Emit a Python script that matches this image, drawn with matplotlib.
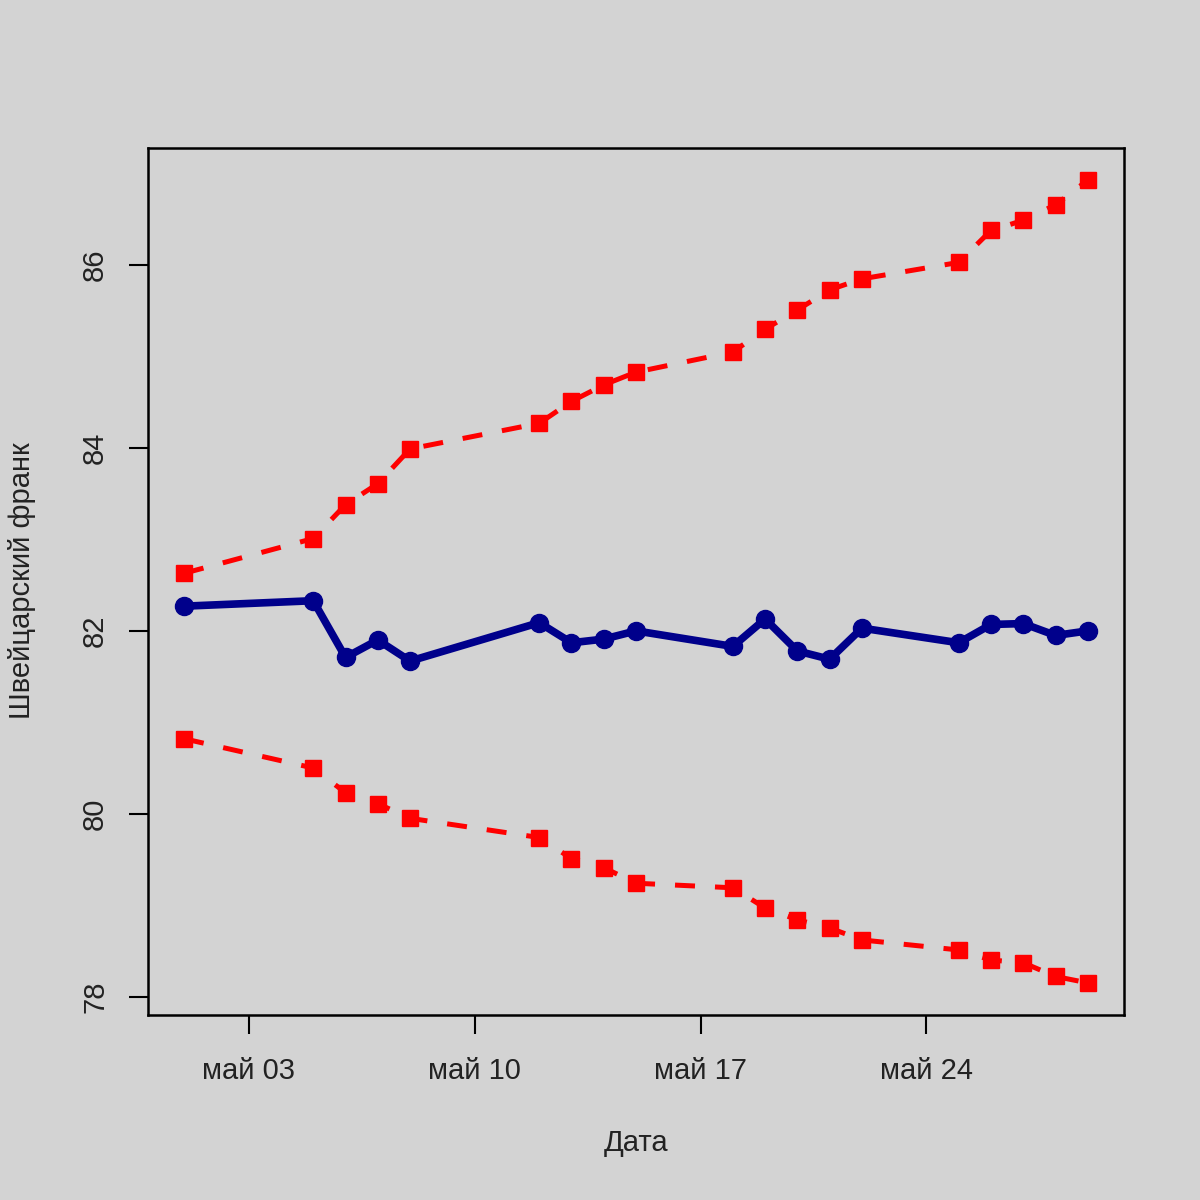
import datetime as dt
import matplotlib
matplotlib.use("Agg")
import matplotlib.pyplot as plt
import matplotlib.dates as mdates

plt.rcParams['font.family'] = ['Liberation Sans', 'DejaVu Sans']

# trading days, May 2020
days = [1, 5, 6, 7, 8, 12, 13, 14, 15, 18, 19, 20, 21, 22, 25, 26, 27, 28, 29]
dates = [dt.date(2020, 5, d) for d in days]

# CHF rate and forecast band
chf = [82.27, 82.33, 81.71, 81.90, 81.67, 82.09, 81.87, 81.91, 82.00, 81.83,
       82.13, 81.78, 81.69, 82.03, 81.87, 82.07, 82.08, 81.95, 82.00]
upper = [82.63, 83.01, 83.38, 83.61, 83.99, 84.27, 84.51, 84.69, 84.83, 85.05,
         85.30, 85.51, 85.73, 85.85, 86.03, 86.38, 86.49, 86.66, 86.93]
lower = [80.82, 80.50, 80.23, 80.11, 79.95, 79.74, 79.51, 79.41, 79.24, 79.19,
         78.97, 78.84, 78.75, 78.62, 78.51, 78.40, 78.37, 78.22, 78.15]

tick_dates = [dt.date(2020, 5, 3), dt.date(2020, 5, 10), dt.date(2020, 5, 17), dt.date(2020, 5, 24)]
tick_labels = ["май 03", "май 10", "май 17", "май 24"]
y_ticks = [78, 80, 82, 84, 86]

bg = "#D3D3D3"
fig = plt.figure(figsize=(12, 12), dpi=100, facecolor=bg)
ax = fig.add_axes([148/1200, 1-1015/1200, 976/1200, 867/1200], facecolor=bg)

ax.plot(dates, upper, color="#FF0000", lw=3.6, dashes=(4, 4), marker="s", ms=11, mec="#FF0000")
ax.plot(dates, lower, color="#FF0000", lw=3.6, dashes=(4, 4), marker="s", ms=11, mec="#FF0000")
ax.plot(dates, chf, color="#00008B", lw=5.5, marker="o", ms=13, mec="#00008B")

# R style 4% padding
x0 = mdates.date2num(dates[0])
x1 = mdates.date2num(dates[-1])
xpad = 0.04 * (x1 - x0)
ax.set_xlim(x0 - xpad, x1 + xpad)
ymin = min(lower)
ymax = max(upper)
ypad = 0.04 * (ymax - ymin)
ax.set_ylim(ymin - ypad, ymax + ypad)

ax.set_xticks([mdates.date2num(d) for d in tick_dates])
ax.set_xticklabels(tick_labels)
ax.set_yticks(y_ticks)
ax.set_yticklabels([str(v) for v in y_ticks], rotation=90, va="center")

ax.tick_params(axis="both", length=14, width=1.5, labelsize=21, colors="black", labelcolor="#222222")
ax.tick_params(axis="x", pad=16)
ax.tick_params(axis="y", pad=14)
for s in ax.spines.values():
    s.set_linewidth(1.8)

fig.text(22/1200, 1-581/1200, "Швейцарский франк", rotation=90, ha="center", va="center",
         fontsize=21, color="#222222")
fig.text(636/1200, 1-1143/1200, "Дата", ha="center", va="center", fontsize=21, color="#222222")

plt.savefig("out.png", dpi=100, facecolor=bg)
